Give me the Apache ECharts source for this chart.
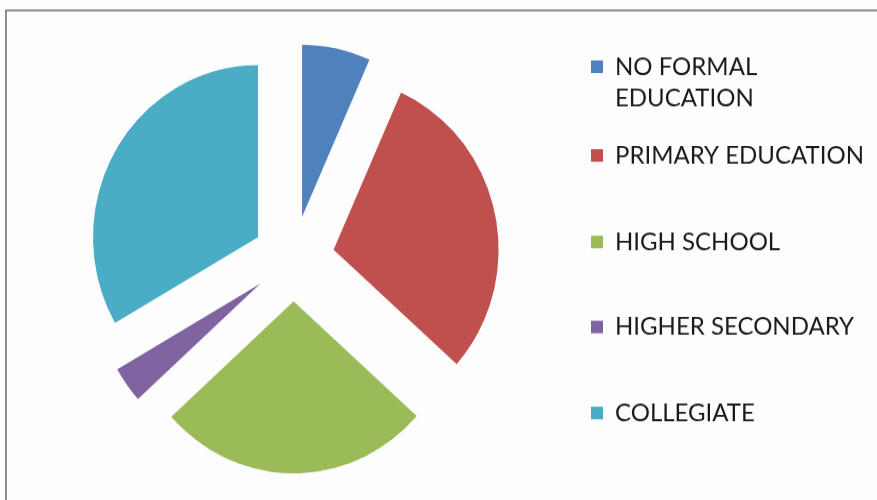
<!DOCTYPE html>
<html>
<head>
<meta charset="utf-8">
<script src="https://cdn.jsdelivr.net/npm/echarts@6/dist/echarts.min.js"></script>
<style>
  html { margin: 0; padding: 0; background: #fdfdfd; overflow: hidden; }
  body { margin: 0; padding: 0; width: 877px; height: 500px; background: #fdfdfd; }
  /* the chart is laid out slightly shorter and stretched vertically to fill 877x500 */
  #chart { width: 877px; height: 480px; transform: scaleY(1.0426); transform-origin: 0 0; }
</style>
</head>
<body>
<div id="chart"></div>
<script>
// Education level breakdown (percent of respondents)
const categories = ['NO FORMAL EDUCATION', 'PRIMARY EDUCATION', 'HIGH SCHOOL', 'HIGHER SECONDARY', 'COLLEGIATE'];
const shares = [6.7, 29.9, 26.7, 3.4, 33.3];
const colors = ['#4F81BD', '#C0504D', '#9BBB59', '#8064A2', '#4BACC6'];

// vertical centre of each legend entry's first text line (chart coordinates)
const legendRowY = [64, 149.1, 232.1, 313.6, 396.1];
const LINE_H = 30;

const chart = echarts.init(document.getElementById('chart'), null, { renderer: 'canvas' });

const legends = categories.map((name, i) => {
  const wraps = i === 0;
  return {
    data: [name],
    orient: 'vertical',
    left: 591,
    // a wrapped entry gets a blank first line so its first text line sits beside the swatch
    top: wraps ? legendRowY[i] - 1.5 * LINE_H : legendRowY[i] - LINE_H / 2,
    padding: 0,
    icon: 'rect',
    itemWidth: 12,
    itemHeight: 12,
    selectedMode: false,
    formatter: wraps ? (n) => '\n' + n : (n) => n,
    textStyle: {
      fontFamily: 'Lato',
      fontSize: 24,
      color: '#1a1a1a',
      lineHeight: LINE_H,
      width: 262,
      overflow: 'break',
      padding: [0, 0, 0, 7]
    }
  };
});

chart.setOption({
  animation: false,
  backgroundColor: '#fdfdfd',
  color: colors,
  graphic: [{
    type: 'rect',
    shape: { x: 6, y: 10.1, width: 1000, height: 600 },
    style: { fill: 'none', stroke: '#8c8c8c', lineWidth: 2 },
    silent: true
  }],
  legend: legends,
  series: [{
    type: 'pie',
    center: [293.5, 248],
    radius: [0, 165],
    startAngle: 90,
    clockwise: true,
    selectedMode: 'multiple',
    selectedOffset: 41,
    label: { show: false },
    labelLine: { show: false },
    emphasis: { disabled: true },
    itemStyle: { borderWidth: 0 },
    data: categories.map((name, i) => ({
      name: name,
      value: shares[i],
      selected: true,
      itemStyle: { color: colors[i] },
      select: { itemStyle: { color: colors[i], borderWidth: 0 } }
    }))
  }]
});
</script>
</body>
</html>
